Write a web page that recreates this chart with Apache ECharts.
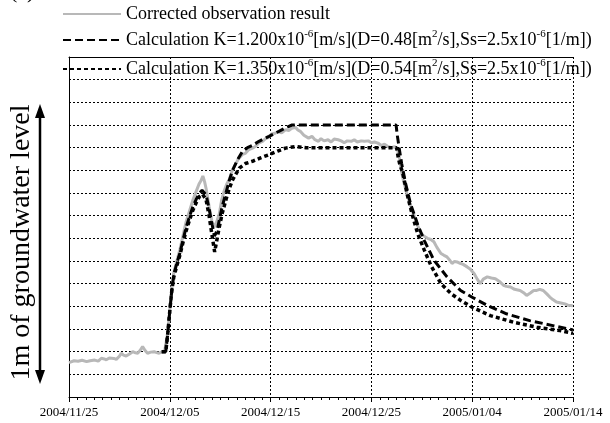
<!DOCTYPE html>
<html>
<head>
<meta charset="utf-8">
<script src="https://cdn.jsdelivr.net/npm/echarts@6/dist/echarts.min.js"></script>
<style>html,body{margin:0;padding:0;background:#fff}#c{width:610px;height:423px}</style>
</head>
<body>
<div id="c"></div>
<script>
// Tick labels of the date axis (one every 10 days)
const dateLabels = ['2004/11/25','2004/12/05','2004/12/15','2004/12/25','2005/01/04','2005/01/14'];
const daysPerLabel = 10;

// Series names
const nameObs = 'Corrected observation result';
const nameK12 = 'Calculation K=1.200';
const nameK135 = 'Calculation K=1.350';

// Observed (days since 2004/11/25, level in 0.1 grid units)
const obsDay = [0.0,0.5,0.9,1.3,1.74,2.1,2.55,2.9,3.21,3.5,3.7,4.0,4.19,4.45,4.69,5.0,5.18,5.4,5.67,6.0,6.32,6.6,6.81,7.05,7.3,7.55,7.79,8.1,8.45,8.7,8.94,9.26,9.5,9.75,10.0,10.2,10.4,10.7,11.0,11.3,11.6,11.95,12.3,12.6,12.9,13.1,13.28,13.45,13.6,13.9,14.2,14.45,14.7,14.92,15.15,15.4,15.65,15.9,16.2,16.5,16.8,17.2,17.5,17.8,18.2,18.5,18.8,19.2,19.5,19.8,20.1,20.5,20.8,21.1,21.5,21.8,22.1,22.46,22.7,22.95,23.3,23.77,24.1,24.4,24.75,25.0,25.3,25.7,26.0,26.3,26.7,27.0,27.3,27.6,28.0,28.3,28.6,29.0,29.3,29.7,30.0,30.3,30.65,31.0,31.3,31.6,32.0,32.3,32.6,32.8,32.95,33.2,33.6,33.9,34.26,34.6,34.92,35.2,35.57,35.9,36.2,36.5,36.9,37.2,37.5,37.75,38.0,38.25,38.5,38.8,39.1,39.5,39.8,40.2,40.5,40.8,41.1,41.5,41.9,42.3,42.7,43.1,43.4,43.8,44.2,44.75,45.1,45.4,45.8,46.1,46.4,46.7,47.05,47.4,47.7,48.0,48.36,48.8,49.2,49.5,49.8,50.0];
const obsLevel = [1.52,1.6,1.58,1.62,1.56,1.6,1.63,1.58,1.71,1.68,1.64,1.72,1.78,1.7,1.66,1.8,1.93,1.85,1.81,1.9,2.0,1.95,1.93,2.05,2.22,2.05,1.93,1.98,2.0,1.96,1.93,2.0,2.05,2.7,3.8,4.8,5.5,6.0,6.5,7.1,7.7,8.2,8.7,9.05,9.4,9.55,9.75,9.5,9.2,8.4,7.7,7.5,7.8,8.1,8.7,9.1,9.4,9.6,10.0,10.25,10.5,10.7,10.75,10.9,10.98,11.05,11.2,11.28,11.4,11.45,11.6,11.65,11.7,11.65,11.8,11.75,11.85,11.9,11.78,11.72,11.55,11.42,11.5,11.35,11.28,11.4,11.3,11.35,11.25,11.38,11.35,11.3,11.22,11.3,11.28,11.35,11.25,11.3,11.28,11.3,11.22,11.25,11.2,11.1,11.15,11.06,11.0,11.05,10.9,10.5,10.03,9.5,8.85,8.4,7.96,7.55,7.22,7.1,7.0,6.95,6.85,6.6,6.33,6.25,6.18,6.05,5.89,5.98,5.96,5.9,5.85,5.74,5.65,5.44,5.2,5.0,5.2,5.3,5.25,5.22,5.1,4.93,4.88,4.85,4.75,4.7,4.6,4.48,4.6,4.7,4.7,4.75,4.7,4.55,4.41,4.3,4.19,4.15,4.11,4.05,4.04,4.02];

// Calculation K=1.200e-6
const k12Day = [9.2,9.6,9.8,10.0,10.2,10.4,10.7,11.0,11.3,11.6,11.95,12.3,12.65,12.95,13.2,13.35,13.6,13.9,14.2,14.43,14.7,14.92,15.2,15.57,15.9,16.23,16.7,17.21,17.7,18.2,18.85,19.84,20.82,21.5,22.13,32.45,32.55,32.75,33.0,33.4,33.9,34.6,35.25,36.2,37.5,38.85,40.0,41.5,43.4,45.7,48.0,50.0];
const k12Level = [2.0,2.0,2.8,3.8,4.7,5.4,5.9,6.35,6.9,7.45,7.95,8.4,8.75,9.0,9.12,9.14,8.92,8.3,7.6,7.1,7.35,7.82,8.4,9.0,9.55,10.0,10.45,10.84,11.0,11.1,11.28,11.5,11.72,11.88,12.0,12.0,11.6,11.0,10.3,9.4,8.5,7.6,6.9,6.04,5.3,4.7,4.4,4.04,3.67,3.37,3.15,2.96];

// Calculation K=1.350e-6
const k135Day = [9.2,9.6,9.8,10.0,10.2,10.4,10.7,11.0,11.3,11.6,11.95,12.3,12.65,12.95,13.25,13.6,13.9,14.2,14.45,14.7,14.92,15.2,15.57,15.9,16.23,16.9,17.5,18.2,19.0,19.84,20.7,21.48,22.46,23.5,32.5,32.65,32.8,33.1,33.6,34.1,34.6,35.25,35.9,36.9,37.9,38.85,40.0,41.8,44.1,46.4,48.7,50.0];
const k135Level = [2.0,2.0,2.8,3.8,4.7,5.3,5.8,6.25,6.8,7.3,7.8,8.25,8.6,8.85,8.95,8.7,8.0,7.1,6.4,7.0,7.52,8.1,8.7,9.2,9.58,10.1,10.3,10.4,10.55,10.69,10.85,10.98,11.05,11.0,11.0,10.6,10.3,9.9,8.85,7.96,7.2,6.48,5.81,5.0,4.56,4.26,3.96,3.59,3.3,3.08,2.93,2.81];

const zip = (a, b) => a.map((v, i) => [v, b[i]]);

const legendRich = {};
legendRich[nameObs] = 'Corrected observation result';
legendRich[nameK12] = 'Calculation K=1.200x10{sup|-6}[m/s](D=0.48[m{sup|2}/s],Ss=2.5x10{sup|-6}[1/m])';
legendRich[nameK135] = 'Calculation K=1.350x10{sup|-6}[m/s](D=0.54[m{sup|2}/s],Ss=2.5x10{sup|-6}[1/m])';

const serif = 'Liberation Serif';
const legendBase = {
  left: 62, orient: 'horizontal', itemWidth: 58, itemHeight: 14, selectedMode: false,
  padding: 0,
  itemStyle: { opacity: 0 },
  formatter: n => legendRich[n],
  textStyle: {
    fontFamily: serif, fontSize: 18, color: '#000', lineHeight: 22,
    rich: { sup: { fontFamily: serif, fontSize: 11, lineHeight: 11, verticalAlign: 'top', color: '#000' } }
  }
};

const chart = echarts.init(document.getElementById('c'), null, { renderer: 'canvas' });
chart.setOption({
  animation: false,
  backgroundColor: '#fff',
  grid: { left: 64, right: 37, top: 57, bottom: 26, containLabel: false },
  legend: [
    Object.assign({}, legendBase, { top: 3, data: [nameObs] }),
    Object.assign({}, legendBase, { top: 29, data: [nameK12] }),
    Object.assign({}, legendBase, { top: 58, data: [nameK135] })
  ],
  xAxis: [{
    type: 'value', min: 0, max: 50, interval: daysPerLabel,
    axisLine: { show: true, onZero: false, lineStyle: { color: '#000', width: 1 } },
    axisTick: { show: true, length: 5, lineStyle: { color: '#000' } },
    minorTick: { show: true, splitNumber: 12, length: 3, lineStyle: { color: '#000' } },
    axisLabel: { formatter: v => dateLabels[Math.round(v / daysPerLabel)], fontFamily: serif, fontSize: 13, color: '#000', margin: 9, showMinLabel: true, showMaxLabel: true },
    splitLine: { show: true, lineStyle: { color: '#000', width: 1, type: [2, 2] } }
  }, {
    type: 'value', min: 0, max: 50, position: 'top',
    axisLine: { show: true, onZero: false, lineStyle: { color: '#000', width: 1 } },
    axisTick: { show: false }, axisLabel: { show: false }, splitLine: { show: false }
  }],
  yAxis: {
    type: 'value', min: 0, max: 15, interval: 1,
    name: '1m of groundwater level', nameLocation: 'middle', nameRotate: 90, nameGap: 33,
    nameTextStyle: { fontFamily: serif, fontSize: 28, color: '#000', padding: [0, 31, 0, 0] },
    axisLine: { show: true, onZero: false, lineStyle: { color: '#000', width: 1 } },
    axisTick: { show: false }, axisLabel: { show: false },
    splitLine: { show: true, lineStyle: { color: '#000', width: 1, type: [2, 2] } }
  },
  series: [
    { name: nameObs, type: 'line', data: zip(obsDay, obsLevel), symbol: 'none', z: 2,
      lineStyle: { color: '#b8b8b8', width: 3 }, itemStyle: { color: '#b8b8b8' } },
    { name: nameK12, type: 'line', data: zip(k12Day, k12Level), symbol: 'none', z: 3,
      lineStyle: { color: '#000', width: 3, type: [8, 4] }, itemStyle: { color: '#000' } },
    { name: nameK135, type: 'line', data: zip(k135Day, k135Level), symbol: 'none', z: 4,
      lineStyle: { color: '#000', width: 3.5, type: [4, 3] }, itemStyle: { color: '#000' } }
  ],
  graphic: [
    { type: 'text', left: 10, top: -19, style: { text: '(a)', fontFamily: serif, fontSize: 22, fill: '#000' } },
    { type: 'line', shape: { x1: 40, y1: 112, x2: 40, y2: 376 }, style: { stroke: '#000', lineWidth: 2.5 } },
    { type: 'polygon', shape: { points: [[40, 104], [35, 118], [45, 118]] }, style: { fill: '#000' } },
    { type: 'polygon', shape: { points: [[40, 384], [35, 370], [45, 370]] }, style: { fill: '#000' } }
  ]
});
</script>
</body>
</html>
